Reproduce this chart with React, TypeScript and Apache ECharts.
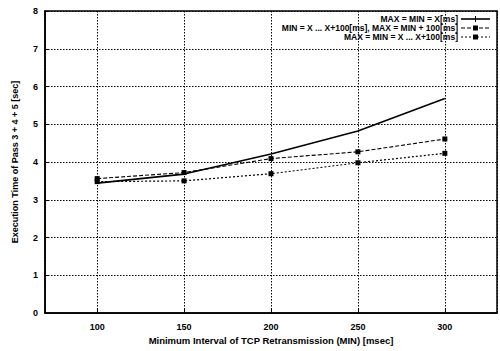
import React, { useEffect, useRef } from "react";
import * as echarts from "echarts";

const xValues = [100, 150, 200, 250, 300];
const seriesNames = [
  "MAX = MIN = X[ms]",
  "MIN = X ... X+100[ms], MAX = MIN + 100[ms]",
  "MAX = MIN = X ... X+100[ms]",
];
const seriesSame = [3.44, 3.68, 4.21, 4.82, 5.68];
const seriesPlus100 = [3.56, 3.72, 4.09, 4.27, 4.61];
const seriesRange = [3.48, 3.5, 3.69, 3.98, 4.23];
const xTitle = "Minimum Interval of TCP Retransmission (MIN) [msec]";
const yTitle = "Execution Time of Pass 3 + 4 + 5 [sec]";

const FONT = "'Liberation Sans', Arial, sans-serif";

export default function App() {
  const ref = useRef<HTMLDivElement>(null);
  useEffect(() => {
    if (!ref.current) return;
    const chart = echarts.init(ref.current, null, { renderer: "svg" });
    const dashes: any[] = ["solid", [4, 2], [2, 2]];
    const widths = [1.6, 1.1, 1.2];
    const all = [seriesSame, seriesPlus100, seriesRange];

    const series = all.map((vals, i) => ({
      name: seriesNames[i],
      type: "line",
      data: vals.map((v, j) => [xValues[j], v]),
      symbol: i === 0 ? "emptyCircle" : "rect",
      symbolSize: i === 0 ? 0 : 5,
      showSymbol: i !== 0,
      lineStyle: { color: "#000", width: widths[i], type: dashes[i] },
      itemStyle: { color: "#000" },
      z: 3 - i + 2,
    }));

    const legendGraphics: any[] = [];
    const rowY = [19, 28, 37];
    seriesNames.forEach((n, i) => {
      legendGraphics.push({
        type: "text",
        x: 458,
        y: rowY[i],
        style: {
          text: n,
          font: `bold 8.5px ${FONT}`,
          fill: "#000",
          align: "right",
          verticalAlign: "middle",
        },
      });
      legendGraphics.push({
        type: "line",
        shape: { x1: 461, y1: rowY[i], x2: 490, y2: rowY[i] },
        style: { stroke: "#000", lineWidth: widths[i], lineDash: dashes[i] === "solid" ? null : dashes[i] },
      });
      if (i === 0) {
        legendGraphics.push({
          type: "line",
          shape: { x1: 475.5, y1: rowY[i] - 3, x2: 475.5, y2: rowY[i] + 3 },
          style: { stroke: "#000", lineWidth: 1 },
        });
      } else {
        legendGraphics.push({
          type: "rect",
          shape: { x: 473, y: rowY[i] - 2.5, width: 5, height: 5 },
          style: { fill: "#000" },
        });
      }
    });

    chart.setOption({
      animation: false,
      backgroundColor: "#fff",
      grid: {
        left: 45,
        right: 3,
        top: 11,
        bottom: 38,
        show: true,
        borderColor: "#000",
        borderWidth: 1.5,
        backgroundColor: "transparent",
      },
      xAxis: {
        type: "value",
        min: 70,
        max: 330,
        splitNumber: 5,
        name: xTitle,
        nameLocation: "middle",
        nameGap: 20,
        nameTextStyle: { fontFamily: FONT, fontWeight: "bold", fontSize: 9.5, color: "#000" },
        axisLine: { show: true, lineStyle: { color: "#000", width: 1.5 } },
        axisTick: { show: true, inside: true, length: 4, lineStyle: { color: "#000" } },
        axisLabel: {
          showMinLabel: false,
          showMaxLabel: false,
          margin: 9,
          fontFamily: FONT,
          fontWeight: "bold",
          fontSize: 9,
          color: "#000",
          formatter: (v: number) => (v === 70 || v === 330 ? "" : String(v)),
        },
        splitLine: { show: true, lineStyle: { color: "#000", type: [1.5, 1.5], width: 1 } },
      },
      yAxis: {
        type: "value",
        min: 0,
        max: 8,
        interval: 1,
        name: yTitle,
        nameLocation: "middle",
        nameGap: 26,
        nameTextStyle: { fontFamily: FONT, fontWeight: "bold", fontSize: 9, color: "#000" },
        axisLine: { show: true, lineStyle: { color: "#000", width: 1.5 } },
        axisTick: { show: true, inside: true, length: 4, lineStyle: { color: "#000" } },
        axisLabel: { margin: 7, fontFamily: FONT, fontWeight: "bold", fontSize: 9, color: "#000" },
        splitLine: { show: true, lineStyle: { color: "#000", type: [1.5, 1.5], width: 1 } },
      },
      series,
      graphic: legendGraphics,
    });
    return () => chart.dispose();
  }, []);
  return (
    <div
      ref={ref}
      style={{ position: "fixed", left: 0, top: 0, width: 500, height: 351, background: "#fff" }}
    />
  );
}
